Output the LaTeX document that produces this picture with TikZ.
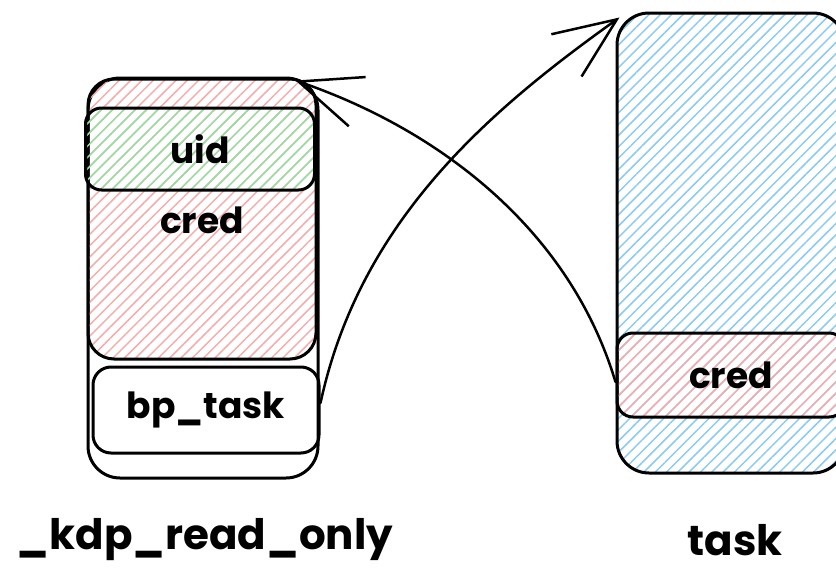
\documentclass[tikz,border=0pt]{standalone}
\usepackage{fontspec}
\setmainfont{Poppins}
\usetikzlibrary{patterns.meta,arrows.meta}

\definecolor{hatchred}{RGB}{244,172,172}
\definecolor{hatchgreen}{RGB}{150,222,162}
\definecolor{hatchblue}{RGB}{140,202,240}

\tikzset{
  box/.style={draw=black, line width=3pt, rounded corners=22pt, inner sep=0pt},
  outerbox/.style={box, rounded corners=32pt},
  hatch/.style={pattern={Lines[angle=45,distance=8pt,line width=1.5pt]}, pattern color=#1},
  boxtext/.style={font=\bfseries\fontsize{36}{40}\selectfont},
  caption/.style={inner sep=0pt, font=\bfseries\fontsize{42}{46}\selectfont},
  link/.style={line width=2.5pt, line cap=round, line join=round,
    -{Straight Barb[length=62pt,width=52pt,line width=2.5pt]}},
}

\begin{document}
\begin{tikzpicture}[x=1pt,y=-1pt]
  \useasboundingbox (0,0) rectangle (836,573);
  \clip (0,0) rectangle (836,573);

  % left structure: _kdp_read_only
  \node[outerbox, minimum width=230pt, minimum height=400pt] (outer) at (203,278) {};
  \node[box, hatch=hatchred, rounded corners=26pt, minimum width=228pt, minimum height=280pt] (cred) at (202,219) {};
  \node[box, hatch=hatchgreen, rounded corners=16pt, minimum width=229pt, minimum height=82pt, boxtext] (uid) at (200,149) {uid};
  \node[boxtext] (credtext) at (202,220) {cred};
  \node[box, rounded corners=18pt, minimum width=226pt, minimum height=86pt, boxtext] (bp) at (206,410) {bp\_task};

  % right structure: task
  \node[outerbox, hatch=hatchblue, minimum width=228pt, minimum height=460pt] (taskbox) at (731,243) {};
  \node[box, hatch=hatchred, rounded corners=16pt, minimum width=228pt, minimum height=84pt, boxtext] (taskcred) at (731,375) {cred};

  % captions
  \node[caption] (lcap) at (205,540) {\_kdp\_read\_only};
  \node[caption] (rcap) at (735,540) {task};

  % pointers
  \draw[link] ([yshift=7pt]bp.east) .. controls (360,220) and (490,110) .. ([shift={(4,6)}]taskbox.north west);
  \draw[link] ([yshift=-7pt]taskcred.west) .. controls (570,230) and (440,130) .. ([shift={(-24,4)}]outer.north east);
\end{tikzpicture}
\end{document}
